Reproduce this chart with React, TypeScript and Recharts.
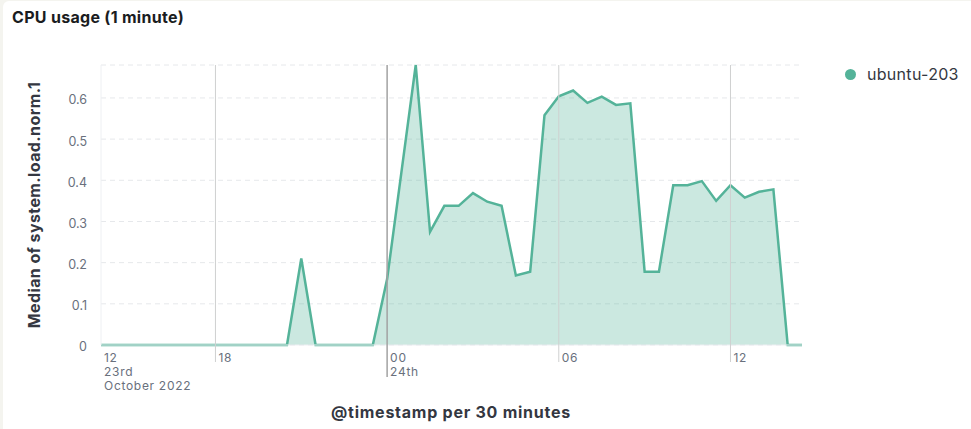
import React from "react";
import { AreaChart, Area, XAxis, YAxis, CartesianGrid } from "recharts";

// ---- data ----
const START = Date.UTC(2022, 9, 23, 14, 0); // first bucket 23 Oct 2022 14:00
const INTERVAL = 30 * 60 * 1000; // 30 minutes

const cpuValues: number[] = [
  0, 0, 0, 0, 0, 0, 0, 0, 0, 0, 0, 0, 0, 0,
  0.21,
  0, 0, 0, 0, 0,
  0.16, 0.42, 0.68, 0.275, 0.338, 0.338, 0.369, 0.348, 0.338, 0.169,
  0.178, 0.558, 0.604, 0.618, 0.588, 0.603, 0.583, 0.587, 0.178, 0.178,
  0.388, 0.388, 0.398, 0.35, 0.388, 0.358, 0.372, 0.378,
  0, 0,
];

const timestamps: number[] = cpuValues.map((_, i) => START + i * INTERVAL);

const xTickValues: number[] = [
  Date.UTC(2022, 9, 23, 14, 0),
  Date.UTC(2022, 9, 23, 18, 0),
  Date.UTC(2022, 9, 24, 0, 0),
  Date.UTC(2022, 9, 24, 6, 0),
  Date.UTC(2022, 9, 24, 12, 0),
];
const xTickLabels: string[][] = [
  ["12", "23rd", "October 2022"],
  ["18"],
  ["00", "24th"],
  ["06"],
  ["12"],
];
const yTickValues: number[] = [0, 0.1, 0.2, 0.3, 0.4, 0.5, 0.6];

const seriesName = "ubuntu-203";

const data = timestamps.map((t, i) => ({ t, value: cpuValues[i] }));

// ---- layout ----
const W = 971;
const H = 429;
const X_AXIS_H = 30;
const MARGIN = { top: 65, right: 169, bottom: 84 - X_AXIS_H, left: 41 };
const PLOT_H = H - MARGIN.top - MARGIN.bottom - X_AXIS_H;
const COLOR = "#54B399";
const FONT = "Inter, 'Noto Sans', sans-serif";

const XTick = (props: any) => {
  const { x, y, index } = props;
  const lines = xTickLabels[index] || [];
  const isFirst = index === 0;
  const isDay = lines.length > 1 && !isFirst;
  const ext = isDay ? 32 : 17;
  return (
    <g>
      {!isFirst && (
        <line
          x1={x}
          x2={x}
          y1={y - PLOT_H}
          y2={y + ext}
          stroke={isDay ? "#a2a2a2" : "#cfd0d0"}
          strokeWidth={isDay ? 1.5 : 1}
        />
      )}
      <text
        x={x + 3}
        y={y}
        fill="#69707d"
        fontSize={12}
        letterSpacing={0.7}
        fontFamily={FONT}
        textAnchor="start"
      >
        {lines.map((l, k) => (
          <tspan key={k} x={x + 3} dy={k === 0 ? 17 : 14}>
            {l}
          </tspan>
        ))}
      </text>
    </g>
  );
};

export default function App() {
  return (
    <div
      style={{
        position: "absolute",
        left: 0,
        top: 0,
        width: W,
        height: H,
        background: "#f4f4ef",
        overflow: "hidden",
        fontFamily: FONT,
      }}
    >
      <div
        style={{
          position: "absolute",
          left: 3,
          top: 1,
          width: W - 3,
          height: H - 1,
          background: "#ffffff",
          borderTopLeftRadius: 6,
        }}
      />
      <div
        style={{
          position: "absolute",
          left: 12,
          top: 7,
          fontSize: 16,
          lineHeight: "20px",
          letterSpacing: 0.3,
          fontWeight: 700,
          color: "#1a1c21",
          whiteSpace: "nowrap",
        }}
      >
        CPU usage (1 minute)
      </div>
      <div style={{ position: "absolute", left: 0, top: 0 }}>
        <AreaChart width={W} height={H} data={data} margin={MARGIN}>
          <CartesianGrid
            vertical={false}
            horizontal={true}
            stroke="#e6e8eb"
            strokeDasharray="5 4"
          />
          <XAxis
            dataKey="t"
            type="number"
            scale="time"
            height={X_AXIS_H}
            domain={[timestamps[0], timestamps[timestamps.length - 1]]}
            ticks={xTickValues}
            tick={<XTick />}
            tickLine={false}
            tickSize={0}
            tickMargin={0}
            axisLine={{ stroke: "#eef0f3" }}
            interval={0}
          />
          <YAxis
            width={60}
            type="number"
            domain={[0, "dataMax"]}
            ticks={yTickValues}
            tickFormatter={(v: number) => (v === 0 ? "0" : v.toFixed(1))}
            tick={{ fill: "#69707d", fontSize: 12.5, fontFamily: FONT, dy: 2 }}
            tickLine={false}
            tickSize={0}
            tickMargin={14}
            axisLine={{ stroke: "#eef0f3" }}
            interval={0}
          />
          <Area
            type="linear"
            dataKey="value"
            name={seriesName}
            stroke={COLOR}
            strokeWidth={2.5}
            fill={COLOR}
            fillOpacity={0.3}
            dot={false}
            activeDot={false}
            isAnimationActive={false}
          />
        </AreaChart>
      </div>
      <div
        style={{
          position: "absolute",
          left: 34,
          top: 205,
          transform: "translate(-50%, -50%) rotate(-90deg)",
          fontSize: 16,
          lineHeight: "20px",
          letterSpacing: 0.4,
          fontWeight: 700,
          color: "#343741",
          whiteSpace: "nowrap",
        }}
      >
        Median of system.load.norm.1
      </div>
      <div
        style={{
          position: "absolute",
          left: 451,
          top: 412,
          transform: "translate(-50%, -50%)",
          fontSize: 16,
          lineHeight: "20px",
          letterSpacing: 0.75,
          fontWeight: 700,
          color: "#343741",
          whiteSpace: "nowrap",
        }}
      >
        @timestamp per 30 minutes
      </div>
      <div
        style={{
          position: "absolute",
          left: 845,
          top: 64,
          display: "flex",
          alignItems: "center",
          height: 20,
          whiteSpace: "nowrap",
        }}
      >
        <span
          style={{
            display: "inline-block",
            width: 11,
            height: 11,
            borderRadius: "50%",
            background: COLOR,
            marginRight: 11,
          }}
        />
        <span style={{ fontSize: 16, letterSpacing: 0.3, color: "#343741" }}>
          {seriesName}
        </span>
      </div>
    </div>
  );
}
